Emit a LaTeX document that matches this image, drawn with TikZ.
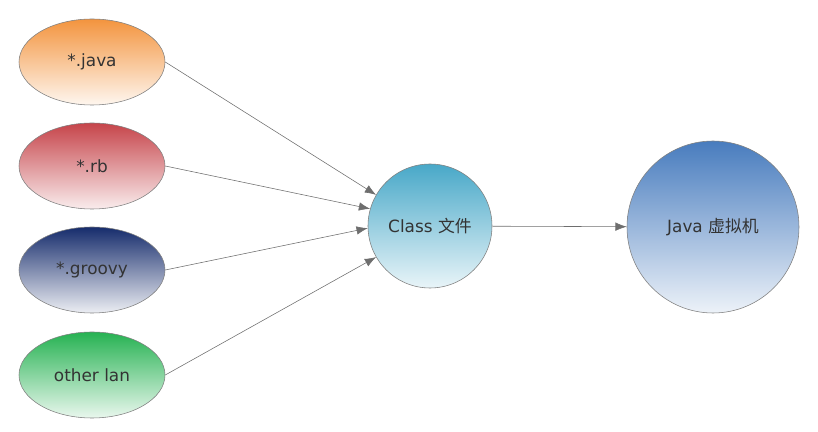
\documentclass[tikz,border=0pt]{standalone}
\usepackage{fontspec}
\setmainfont{DejaVu Sans}
\newfontfamily\cjk{Noto Sans CJK SC}
\definecolor{javaorange}{RGB}{243, 148, 62}
\definecolor{rbred}{RGB}{198, 68, 74}
\definecolor{groovyblue}{RGB}{22, 44, 108}
\definecolor{othergreen}{RGB}{38, 178, 82}
\definecolor{classcyan}{RGB}{72, 168, 200}
\definecolor{jvmblue}{RGB}{72, 124, 190}
\definecolor{arrowgray}{RGB}{110, 110, 110}
\usetikzlibrary{arrows.meta, shapes.geometric}

\begin{document}
\begin{tikzpicture}[x=0.025cm, y=-0.025cm,
		lang/.style={ellipse, draw=gray, thin, minimum width=146*0.025cm, minimum height=86*0.025cm, text=black!80, font=\fontsize{12}{14}\selectfont},
		bubble/.style={circle, draw=gray, thin, text=black!80, font=\fontsize{12}{14}\selectfont},
		feed/.style={draw=arrowgray, -{Latex[length=8pt, width=6pt]}}]
			\useasboundingbox (0,0) rectangle (818,432);
			
			\node[lang, top color=javaorange, bottom color=white!92!javaorange] (java) at (92,62) {*.java};
			\node[lang, top color=rbred, bottom color=white!90!rbred] (rb) at (92,166) {*.rb};
			\node[lang, top color=groovyblue, bottom color=white!92!groovyblue] (groovy) at (92,270) {*.groovy};
			\node[lang, top color=othergreen, bottom color=white!90!othergreen] (other) at (92,375) {other lan};
			
			\node[bubble, minimum size=124*0.025cm, top color=classcyan, bottom color=white!88!classcyan] (class) at (430,226) {Class {\cjk 文件}};
			\node[bubble, minimum size=172*0.025cm, top color=jvmblue, bottom color=white!90!jvmblue] (jvm) at (713,227) {Java {\cjk 虚拟机}};
			
			\draw[feed] (java.east) -- (class.150);
			\draw[feed] (rb.east) -- (class.164);
			\draw[feed] (groovy.east) -- (class.182);
			\draw[feed] (other.east) -- (class.210);
			\draw[feed] (class) -- (jvm);
		\end{tikzpicture}
\end{document}
